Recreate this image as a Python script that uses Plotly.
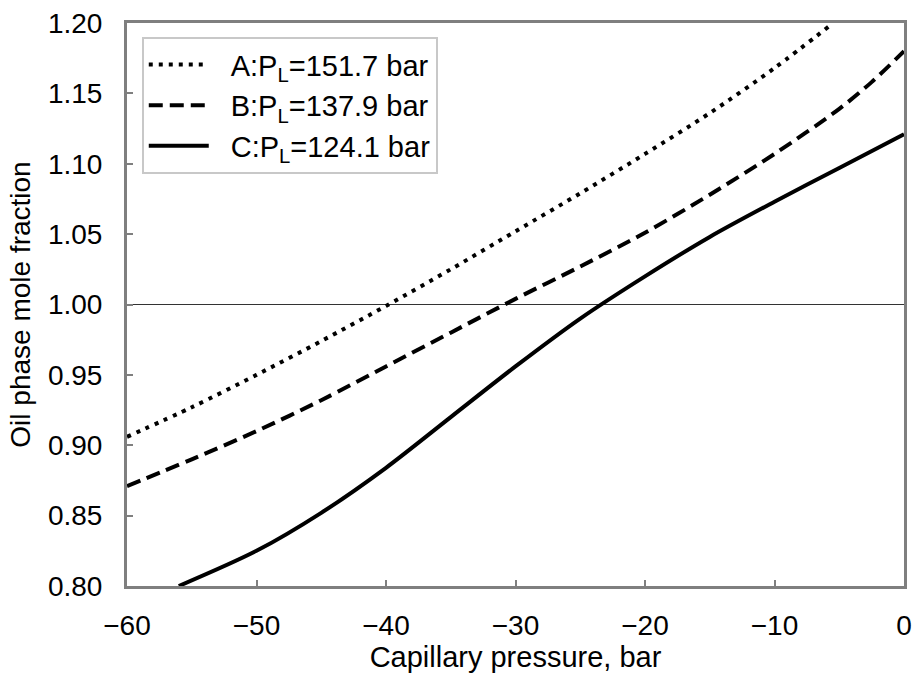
import plotly.graph_objects as go

# Data
x_a = [-60, -55, -50, -45, -40, -35, -30, -25, -20, -15, -10, -5.6]
y_a = [0.906, 0.927, 0.950, 0.974, 0.999, 1.025, 1.052, 1.079, 1.107, 1.136, 1.168, 1.199]

x_b = [-60, -55, -50, -45, -40, -35, -30, -25, -20, -15, -10, -5, -2.5, 0]
y_b = [0.871, 0.890, 0.910, 0.932, 0.956, 0.980, 1.004, 1.027, 1.051, 1.078, 1.107, 1.139, 1.158, 1.180]

x_c = [-56, -50, -45, -40, -35, -30, -25, -20, -15, -10, -5, 0]
y_c = [0.800, 0.825, 0.852, 0.884, 0.920, 0.956, 0.990, 1.020, 1.048, 1.073, 1.097, 1.121]

names = ["A:P<sub>L</sub>=151.7 bar", "B:P<sub>L</sub>=137.9 bar", "C:P<sub>L</sub>=124.1 bar"]
ref_y = 1.0
x_ticks = [-60, -50, -40, -30, -20, -10, 0]
y_ticks = [0.80, 0.85, 0.90, 0.95, 1.00, 1.05, 1.10, 1.15, 1.20]

FONT = "Liberation Sans, Arial, sans-serif"
GRAY = "#7f7f7f"
PAD = "\u2002\u200a"  # small gap between legend symbol and text

fig = go.Figure()
fig.add_trace(go.Scatter(x=x_a, y=y_a, mode="lines", name=PAD + names[0],
                         line=dict(color="black", width=4, dash="4px,6px", shape="spline", smoothing=0.85)))
fig.add_trace(go.Scatter(x=x_b, y=y_b, mode="lines", name=PAD + names[1],
                         line=dict(color="black", width=4, dash="14px,7px", shape="spline", smoothing=0.85)))
fig.add_trace(go.Scatter(x=x_c, y=y_c, mode="lines", name=PAD + names[2],
                         line=dict(color="black", width=4, shape="spline", smoothing=0.85)))

fig.add_hline(y=ref_y, line=dict(color="#333333", width=1.2), layer="below")

fig.update_layout(
    width=920, height=675,
    margin=dict(l=127, r=8, t=23, b=83),
    paper_bgcolor="white", plot_bgcolor="white",
    font=dict(family=FONT, size=28, color="black"),
    showlegend=True,
    legend=dict(x=0.019, y=0.975, xanchor="left", yanchor="top",
                bgcolor="white", bordercolor="#c8c8c8", borderwidth=2,
                font=dict(size=29), itemwidth=60, tracegroupgap=0),
)
fig.update_xaxes(range=[-60, 0], tickvals=x_ticks, showgrid=False, zeroline=False,
                 showline=True, linecolor=GRAY, linewidth=3, mirror=True,
                 ticks="inside", ticklen=6, tickcolor=GRAY, tickwidth=1.5,
                 ticklabelstandoff=12,
                 title=dict(text="Capillary pressure, bar", font=dict(size=29), standoff=6))
fig.update_yaxes(range=[0.80, 1.20], tickvals=y_ticks, tickformat=".2f", showgrid=False, zeroline=False,
                 showline=True, linecolor=GRAY, linewidth=3, mirror=True,
                 ticks="inside", ticklen=6, tickcolor=GRAY, tickwidth=1.5,
                 ticklabelstandoff=16,
                 title=dict(text="Oil phase mole fraction", font=dict(size=28), standoff=10))

fig.write_html("out.html")
